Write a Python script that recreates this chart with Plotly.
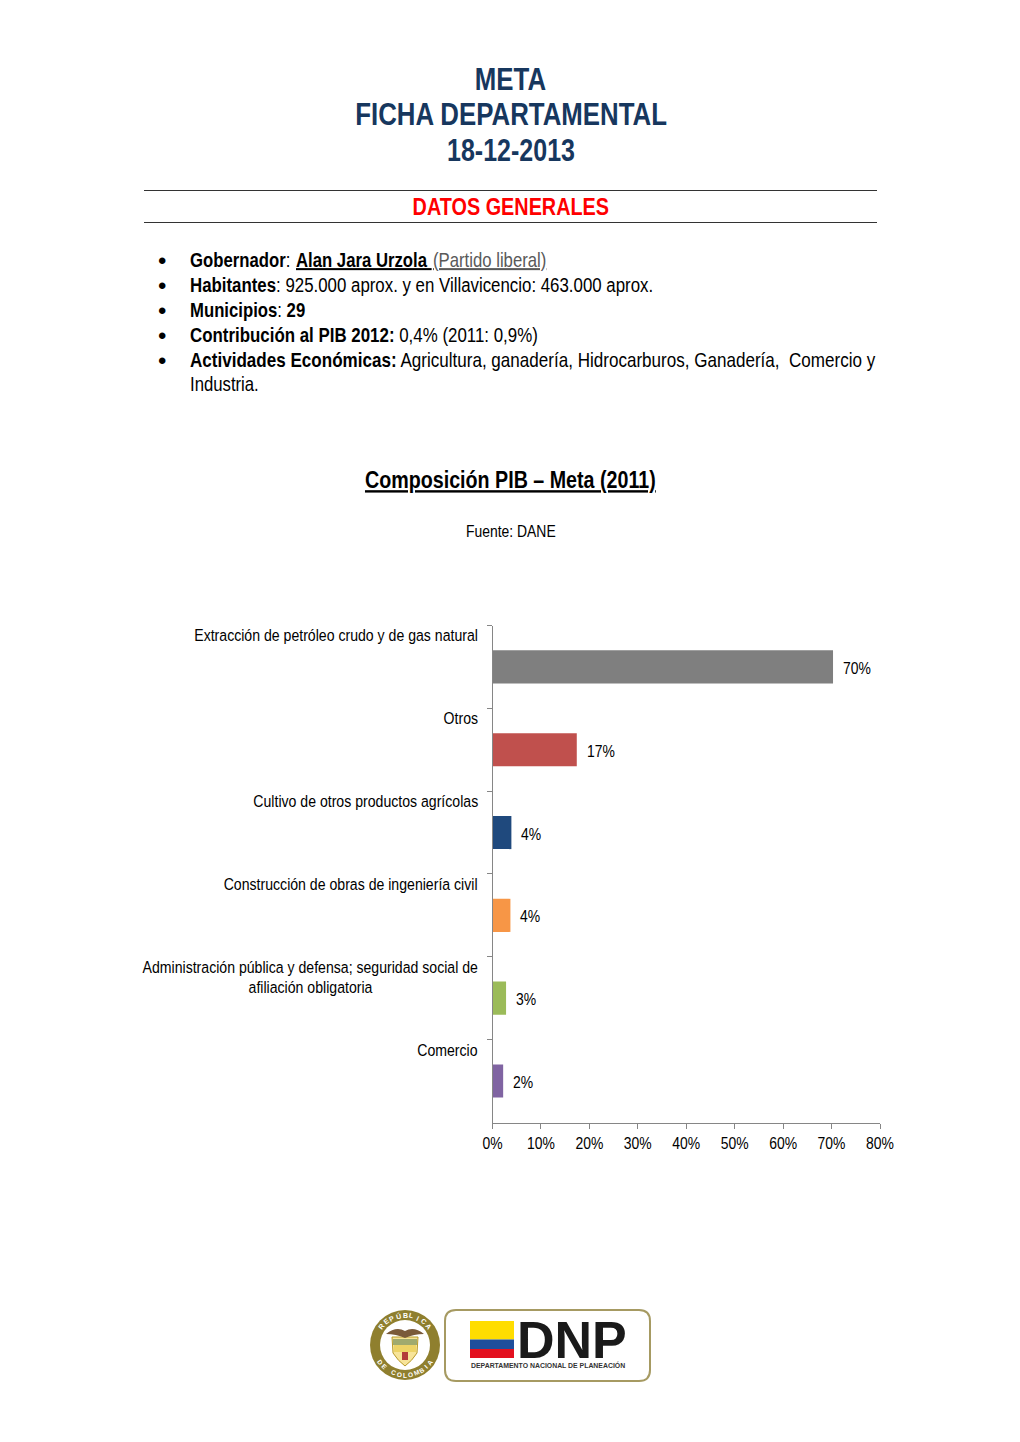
import math
import plotly.graph_objects as go

W, H = 1020, 1442
FONT = "Liberation Sans"
LOGOFONT = "Liberation Sans, sans-serif"

categories = [
    "Extracción de petróleo crudo y de gas natural",
    "Otros",
    "Cultivo de otros productos agrícolas",
    "Construcción de obras de ingeniería civil",
    "Administración pública y defensa; seguridad social de<br>afiliación obligatoria",
    "Comercio",
]
values = [70.3, 17.4, 3.9, 3.7, 2.8, 2.2]
value_labels = ["70%", "17%", "4%", "4%", "3%", "2%"]
bar_colors = ["#7f7f7f", "#c0504d", "#1f497d", "#f79646", "#9bbb59", "#8064a2"]
x_ticks = [0, 10, 20, 30, 40, 50, 60, 70, 80]
title_lines = ["META", "FICHA DEPARTAMENTAL", "18-12-2013"]


def px(x):
    return x / W


def py(y):
    return 1 - y / H


def text(x, y, s, size, color="#000000", anchor="left", under=False, valign="middle", align=None, family=FONT):
    font = dict(family=family, size=size, color=color)
    if under:
        font["lineposition"] = "under"
    return dict(xref="paper", yref="paper", x=px(x), y=py(y), text=s, showarrow=False,
                xanchor=anchor, yanchor=valign, font=font, borderpad=0, borderwidth=0,
                align=align or anchor)


annotations = []
shapes = []

# Heading
for line, yy, size in zip(title_lines, [79, 114, 150], [31.5, 31.5, 30.5]):
    annotations.append(text(510.5, yy, f"<b>{line}</b>", size, "#17375e", "center"))
annotations.append(text(510.5, 207, "<b>DATOS GENERALES</b>", 24.2, "#ff0000", "center"))
for yy in [190.5, 222.5]:
    shapes.append(dict(type="line", xref="paper", yref="paper", x0=px(144), x1=px(877),
                       y0=py(yy), y1=py(yy), line=dict(color="#333333", width=1)))

# Bulleted text
for yy in [260, 285, 310, 335, 360]:
    annotations.append(text(162, yy, "•", 24, "#000000", "center", family=LOGOFONT))
annotations.append(text(190, 259.5, "<b>Gobernador</b>: ", 20.4))
annotations.append(text(295.5, 259.5, "<b>Alan Jara Urzola</b> ", 20.4, under=True))
annotations.append(text(432.5, 260, "(Partido liberal)", 20.4, "#595959", under=True))
annotations.append(text(190, 284.5, "<b>Habitantes</b>: 925.000 aprox. y en Villavicencio: 463.000 aprox.", 20.55))
annotations.append(text(190, 309.5, "<b>Municipios</b>: <b>29</b>", 20.4))
annotations.append(text(190, 334.5, "<b>Contribución al PIB 2012:</b> 0,4% (2011: 0,9%)", 20.6))
annotations.append(text(190, 359.5, "<b>Actividades Económicas:</b> Agricultura, ganadería, Hidrocarburos, Ganadería,  Comercio y", 20.8))
annotations.append(text(190, 383.5, "Industria.", 20.4))

annotations.append(text(510.5, 479.5, "<b>Composición PIB – Meta (2011)</b>", 24, "#000000", "center", under=True))
annotations.append(text(510.5, 531, "Fuente: DANE", 17, "#000000", "center"))

# Category labels and value labels, placed from the data through the axes
LABEL_FONT = dict(family=FONT, size=17.2, color="#000000")
VALUE_FONT = dict(family=FONT, size=17, color="#000000")
for cat, val, lab in zip(categories, values, value_labels):
    lines = cat.split("<br>")
    annotations.append(dict(xref="x", yref="y", x=0, y=cat, text=lines[0], showarrow=False,
                            xanchor="right", yanchor="top", align="right",
                            xshift=-14.5, yshift=41.5, borderpad=0, borderwidth=0, font=LABEL_FONT))
    if len(lines) > 1:
        annotations.append(dict(xref="x", yref="y", x=0, y=cat, text=lines[1], showarrow=False,
                                xanchor="center", yanchor="top", align="center",
                                xshift=-182, yshift=21.5, borderpad=0, borderwidth=0, font=LABEL_FONT))
    annotations.append(dict(xref="x", yref="y", x=val, y=cat, text=lab, showarrow=False,
                            xanchor="left", yanchor="middle", align="left", xshift=10, yshift=-1.5,
                            borderpad=0, borderwidth=0, font=VALUE_FONT))

# Logos (decorative)
GOLD = "#8f7f2e"
def circle(cx, cy, r, fill, line=None, lw=0):
    return dict(type="circle", xref="paper", yref="paper", x0=px(cx - r), x1=px(cx + r),
                y0=py(cy - r), y1=py(cy + r), fillcolor=fill, line=dict(color=line or fill, width=lw))

def rect(x0, y0, x1, y1, fill):
    return dict(type="rect", xref="paper", yref="paper", x0=px(x0), x1=px(x1), y0=py(y0), y1=py(y1),
                fillcolor=fill, line=dict(width=0))

shapes.append(circle(405, 1345, 35, GOLD))
shapes.append(circle(405, 1345, 25, "#ffffff"))
shapes.append(rect(393, 1339, 417, 1345, "#3f7f9f"))
shapes.append(rect(394, 1345, 416, 1352, "#e8d98f"))
shapes.append(dict(type="path", xref="paper", yref="paper",
                   path=f"M {px(392)} {py(1337)} L {px(418)} {py(1337)} L {px(417)} {py(1353)} Q {px(412)} {py(1361)} {px(405)} {py(1366)} Q {px(398)} {py(1361)} {px(393)} {py(1353)} Z",
                   fillcolor="rgba(240,205,70,0.55)", line=dict(color="#b89a2a", width=1)))
shapes.append(dict(type="path", xref="paper", yref="paper",
                   path=f"M {px(386)} {py(1334)} Q {px(396)} {py(1326)} {px(405)} {py(1331)} Q {px(414)} {py(1326)} {px(424)} {py(1334)} Q {px(414)} {py(1334)} {px(405)} {py(1338)} Q {px(396)} {py(1334)} {px(386)} {py(1334)} Z",
                   fillcolor="#7a5a3a", line=dict(width=0)))
shapes.append(rect(402, 1352, 408, 1360, "#b33a3a"))

def ring_text(s, center_deg, step, radius, size, bottom=False):
    n = len(s)
    for i, ch in enumerate(s):
        off = (i - (n - 1) / 2) * step
        if bottom:
            ang = math.radians(center_deg - off)
            rot = -off
        else:
            ang = math.radians(center_deg + off)
            rot = off
        xx = 405 + radius * math.sin(ang)
        yy = 1345 - radius * math.cos(ang)
        annotations.append(dict(xref="paper", yref="paper", x=px(xx), y=py(yy), text=f"<b>{ch}</b>",
                                showarrow=False, xanchor="center", yanchor="middle", textangle=rot,
                                borderpad=0, borderwidth=0,
                                font=dict(family=LOGOFONT, size=size, color="#ffffff")))

ring_text("REPÚBLICA", 0, 13, 30, 7)
ring_text("DE COLOMBIA", 180, 11, 30, 6.5, bottom=True)

# DNP badge
x0, y0, x1, y1, r = 445, 1310, 650, 1381, 11
shapes.append(dict(type="path", xref="paper", yref="paper",
                   path=(f"M {px(x0 + r)} {py(y0)} L {px(x1 - r)} {py(y0)} Q {px(x1)} {py(y0)} {px(x1)} {py(y0 + r)} "
                         f"L {px(x1)} {py(y1 - r)} Q {px(x1)} {py(y1)} {px(x1 - r)} {py(y1)} "
                         f"L {px(x0 + r)} {py(y1)} Q {px(x0)} {py(y1)} {px(x0)} {py(y1 - r)} "
                         f"L {px(x0)} {py(y0 + r)} Q {px(x0)} {py(y0)} {px(x0 + r)} {py(y0)} Z"),
                   fillcolor="#ffffff", line=dict(color="#a69a62", width=2)))
shapes.append(rect(470, 1321, 514, 1339.5, "#ffdd00"))
shapes.append(rect(470, 1339.5, 514, 1349, "#1f4e9c"))
shapes.append(rect(470, 1349, 514, 1358, "#e3101f"))
annotations.append(dict(xref="paper", yref="paper", x=px(572), y=py(1339.5), text="<b>DNP</b>", showarrow=False,
                        xanchor="center", yanchor="middle", borderpad=0, borderwidth=0,
                        font=dict(family=LOGOFONT, size=52, color="#1a1a1a")))
annotations.append(dict(xref="paper", yref="paper", x=px(547.5), y=py(1364.5),
                        text="<b>DEPARTAMENTO NACIONAL DE PLANEACIÓN</b>", showarrow=False,
                        xanchor="center", yanchor="middle", borderpad=0, borderwidth=0,
                        font=dict(family=LOGOFONT, size=6.9, color="#333333")))

fig = go.Figure(go.Bar(
    x=values, y=categories, orientation="h",
    marker=dict(color=bar_colors, line=dict(width=0)),
    width=0.4, hoverinfo="skip",
))
fig.update_layout(
    width=W, height=H, autosize=False, showlegend=False,
    margin=dict(l=0, r=0, t=0, b=0, autoexpand=False),
    paper_bgcolor="#ffffff", plot_bgcolor="#ffffff",
    font=dict(family=FONT, size=17, color="#000000"),
    annotations=annotations, shapes=shapes,
    xaxis=dict(domain=[px(492.5), px(880)], range=[0, 80], tickvals=x_ticks,
               ticktext=[f"{v}%" for v in x_ticks], ticks="outside", ticklen=5,
               tickcolor="#868686", linecolor="#868686", linewidth=1, showline=True,
               showgrid=False, zeroline=False,
               tickfont=dict(family=FONT, size=17, color="#000000")),
    yaxis=dict(domain=[py(1122.5), py(625.5)], autorange="reversed", type="category",
               categoryorder="array", categoryarray=categories, tickson="boundaries",
               ticks="outside", ticklen=5, tickcolor="#868686", linecolor="#868686",
               linewidth=1, showline=True, showgrid=False, zeroline=False, showticklabels=False),
)
POST = """
document.body.style.margin='0';
document.querySelectorAll('svg text').forEach(function(t){
  if ((t.style.fontFamily||'').indexOf('sans-serif')>=0) return;
  var x=parseFloat(t.getAttribute('x')||0), tr=t.getAttribute('transform')||'';
  t.setAttribute('transform', tr+' translate('+x+',0) scale(0.82,1) translate('+(-x)+',0)');
});
"""
fig.write_html("out.html", post_script=POST, config={"displayModeBar": False})
